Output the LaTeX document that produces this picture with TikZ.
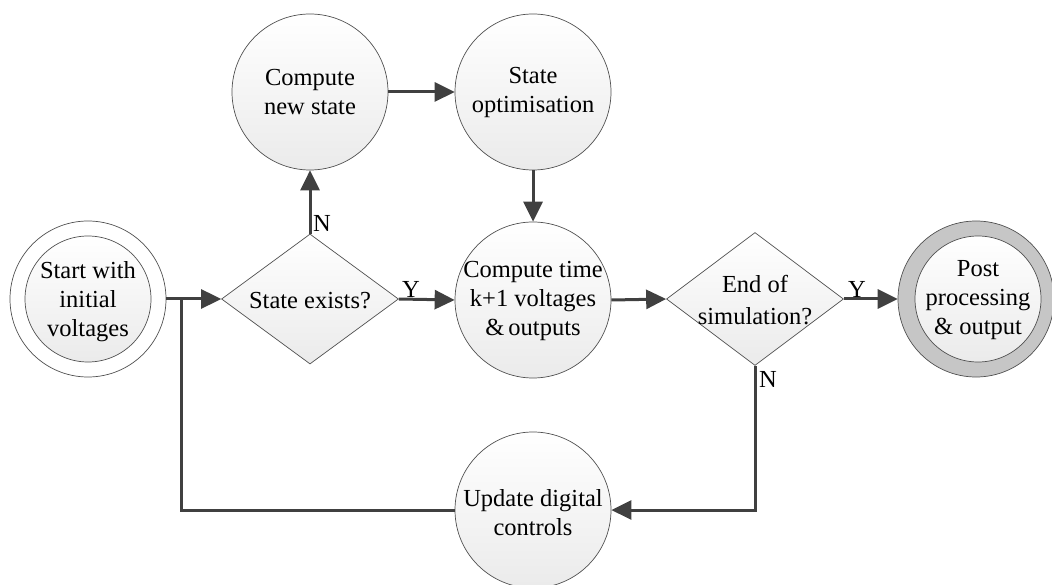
\documentclass[tikz,border=0pt]{standalone}
\usepackage{fontspec}
\setmainfont{Liberation Serif}
\usetikzlibrary{shapes.geometric,arrows.meta}
\definecolor{linecol}{HTML}{404040}
\definecolor{edgecol}{HTML}{505050}
\definecolor{ringcol}{HTML}{C6C6C6}
\begin{document}
\begin{tikzpicture}[x=1pt,y=-1pt,
  shapefill/.style={top color=white, bottom color=black!8},
  blob/.style={circle, draw=edgecol, line width=0.7pt, shapefill,
    minimum size=156pt, inner sep=0pt},
  innerblob/.style={circle, draw=edgecol, line width=0.7pt, shapefill,
    minimum size=126pt, inner sep=0pt},
  ring/.style={circle, draw=edgecol, line width=0.7pt,
    minimum size=156pt, inner sep=0pt},
  decision/.style={diamond, draw=edgecol, line width=0.7pt, shapefill,
    minimum width=177pt, minimum height=130pt, inner sep=0pt},
  txt/.style={align=center, inner sep=0pt, font=\fontsize{24.5}{29}\selectfont},
  flag/.style={inner sep=0pt, font=\fontsize{24.5}{29}\selectfont},
  flow/.style={draw=linecol, line width=3pt,
    -{Triangle[length=20pt,width=19pt]}},
  plain/.style={draw=linecol, line width=3pt},
]
\useasboundingbox (0,0) rectangle (1052,585);

% start terminal: double circle
\node[ring, fill=white] (start) at (88,299) {};
\node[innerblob] (startin) at (88,299) {};
\node[txt] (tstart) at (88,302) {Start with\\initial\\voltages};

% decision: does the state exist
\node[decision] (d1) at (310,299) {};
\node[txt] (td1) at (310,301) {State exists?};

% new state branch
\node[blob] (cns) at (310,92) {};
\node[txt] (tcns) at (310,92) {Compute\\new state};
\node[blob] (sopt) at (533,92) {};
\node[txt] (tsopt) at (533,92) {State\\optimisation};

% time step
\node[blob] (ctime) at (533,300) {};
\node[txt] (tctime) at (533,301) {Compute time\\k+1 voltages\\\&\,outputs};

% decision: end of run
\node[decision, minimum height=133pt] (d2) at (755,299) {};
\node[txt] (td2) at (755,300) {End of\\[3pt]simulation?};

% final terminal: shaded ring
\node[ring, fill=ringcol] (post) at (976,299) {};
\node[innerblob] (postin) at (978,299) {};
\node[txt] (tpost) at (978,300) {Post\\processing\\\& output};

% controls update
\node[blob] (upd) at (533,510) {};
\node[txt] (tupd) at (533,513) {Update digital\\controls};

% loop junction
\coordinate (j) at (181,299);

% connectors
\draw[flow] (start.east) -- (d1.west);
\draw[flow] (d1.north) -- (cns.south);
\draw[flow] (cns.east) -- (sopt.west);
\draw[flow] (sopt.south) -- (ctime.north);
\draw[flow] (d1.east) -- (ctime.west);
\draw[flow] (ctime.east) -- (d2.west);
\draw[flow] (d2.east) -- (post.west);
\draw[flow] (d2.south) |- (upd.east);
\draw[plain] (upd.west) -| (j);

% branch labels
\node[flag] (n1) at (322,223) {N};
\node[flag] (y1) at (411,289) {Y};
\node[flag] (y2) at (857,289) {Y};
\node[flag] (n2) at (768,379) {N};
\end{tikzpicture}
\end{document}
